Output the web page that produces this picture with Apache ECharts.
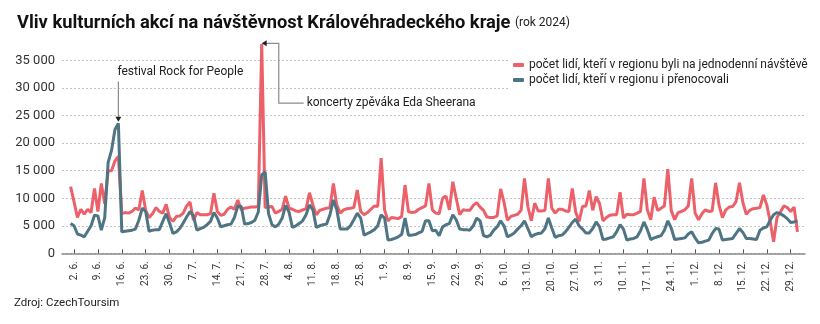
<!DOCTYPE html>
<html><head><meta charset="utf-8">
<script src="https://cdn.jsdelivr.net/npm/echarts@6/dist/echarts.min.js"></script>
<style>html,body{margin:0;padding:0;background:#fff}#c{width:820px;height:324px}</style>
</head><body><div id="c"></div>
<script>
// ---- categories: every day from 1. 6. to 31. 12. 2024 ----
const monthLengths = [[6,30],[7,31],[8,31],[9,30],[10,31],[11,30],[12,31]];
const dates = [];
monthLengths.forEach(([m, n]) => { for (let d = 1; d <= n; d++) dates.push(d + '. ' + m + '.'); });

// ---- tick labels (Sundays) ----
const tickLabels = ['2. 6.','9. 6.','16. 6.','23. 6.','30. 6.','7. 7.','14. 7.','21. 7.','28. 7.','4. 8.','11. 8.','18. 8.','25. 8.','1. 9.','8. 9.','15. 9.','22. 9.','29. 9.','6. 10.','13. 10.','20. 10.','27. 10.','3. 11.','10. 11.','17. 11.','24. 11.','1. 12.','8. 12.','15. 12.','22. 12.','29. 12.'];
const yTicks = [0, 5000, 10000, 15000, 20000, 25000, 30000, 35000];

// ---- series: day visitors ----
const dayTrips = [
 12100,
 9400, 6500, 8000, 7100, 8000, 7400, 11800,
 7600, 12700, 9000, 15000, 15000, 16800, 17600,
 7200, 7400, 7300, 7600, 8200, 7900, 11400,
 7800, 6500, 7200, 8300, 7600, 7300, 8900,
 6500, 5800, 6700, 6800, 7300, 8600, 9300,
 6000, 7400, 7000, 7000, 7000, 7200, 10900,
 7600, 6900, 7100, 8000, 8400, 8000, 9700,
 7900, 8200, 8300, 8400, 8400, 8500, 38000,
 8300, 8400, 8500, 7300, 7600, 8000, 10400,
 8200, 8000, 7700, 7600, 7900, 8100, 11000,
 8800, 7000, 7800, 8000, 8200, 8300, 12700,
 8800, 7300, 7900, 8100, 8200, 8300, 11500,
 7600, 7000, 7400, 8000, 8600, 8500, 17300,
 7900, 5900, 6500, 6400, 6300, 6700, 12400,
 7600, 7400, 7500, 8000, 8300, 8600, 12700,
 7900, 7300, 7200, 10000, 10400, 7900, 13000,
 10000, 7000, 7900, 7800, 7800, 8700, 9200,
 8400, 7800, 6600, 6500, 6500, 6800, 11700,
 9300, 6000, 6700, 6900, 7100, 7800, 13600,
 8500, 5900, 9100, 7700, 7700, 7800, 13600,
 8200, 7300, 8000, 8000, 7700, 7600, 11800,
 7500, 5800, 8500, 8600, 11400, 7800, 10300,
 9000, 5900, 6500, 6900, 7000, 7000, 11100,
 6400, 7100, 7000, 7000, 7300, 7600, 13600,
 7900, 6100, 10200, 7800, 8200, 8600, 15300,
 7800, 6100, 7400, 7600, 7900, 8600, 13600,
 7300, 6100, 7200, 7900, 7600, 7700, 12800,
 8800, 6500, 7900, 8400, 8500, 9400, 12800,
 9200, 7100, 7800, 8100, 8200, 8300, 10600,
 8800, 5800, 2100, 6500, 7500, 8600, 8300,
 7600, 8400, 3900
];

// ---- series: overnight visitors ----
const overnight = [
 5400,
 5000, 3500, 3300, 3000, 4000, 5000, 6900,
 6800, 4200, 6500, 16500, 18700, 22500, 23600,
 3900, 4000, 4100, 4200, 4400, 6000, 8200,
 7600, 4000, 4200, 4300, 4300, 5800, 7200,
 5500, 3600, 3900, 4500, 5500, 6600, 7600,
 6800, 4200, 4500, 4700, 5200, 5800, 7400,
 6400, 4800, 5000, 5200, 5300, 6500, 8600,
 8500, 5300, 5400, 5600, 6000, 7500, 14200,
 14800, 7200, 5200, 4800, 5300, 6400, 8700,
 7500, 4700, 5000, 5400, 5900, 7000, 8800,
 7900, 4700, 5000, 5200, 5300, 7000, 9700,
 7900, 4400, 4400, 4400, 5000, 6100, 7300,
 6400, 3300, 3600, 3900, 4300, 5000, 7000,
 6400, 2400, 2500, 2700, 3000, 3400, 6400,
 3300, 3300, 3400, 3700, 4000, 5900, 5900,
 4100, 4200, 3200, 4800, 5200, 5400, 7000,
 6100, 4400, 4300, 4300, 4200, 5000, 6400,
 5900, 3200, 3000, 3300, 4200, 4800, 5900,
 5000, 3000, 3300, 3700, 4400, 5000, 5900,
 4500, 3000, 3400, 3600, 3700, 4500, 6400,
 4600, 2900, 3200, 3300, 3900, 4700, 5600,
 6200, 5000, 4400, 3700, 3700, 4500, 5700,
 4800, 2500, 2600, 2800, 3000, 3900, 5200,
 4400, 2400, 2600, 2700, 3000, 4100, 5700,
 4300, 2500, 2800, 3000, 3200, 4200, 5900,
 4600, 2500, 2600, 2700, 2800, 3500, 3900,
 2800, 1900, 2000, 2200, 2400, 3600, 4500,
 4400, 2400, 2500, 2600, 2700, 3600, 4500,
 3800, 2700, 2700, 2600, 2500, 4200, 4600,
 4800, 6000, 7000, 7400, 7200, 6800, 6300,
 5600, 5700, 5900
];

const seriesNames = ['počet lidí, kteří v regionu byli na jednodenní návštěvě', 'počet lidí, kteří v regionu i přenocovali'];
const titleText = 'Vliv kulturních akcí na návštěvnost Královéhradeckého kraje';
const subTitleText = '(rok 2024)';
const sourceText = 'Zdroj: CzechToursim';
const noteRock = { text: 'festival Rock for People', date: '15. 6.' };
const noteSheeran = { text: 'koncerty zpěváka Eda Sheerana', date: '27. 7.' };

const RED = '#ec6069', BLUE = '#4f7585', FONT = 'Roboto';
const tickIdx = tickLabels.map(t => dates.indexOf(t));
const fmt = v => v === 0 ? '0' : String(v).replace(/\B(?=(\d{3})+(?!\d))/g, ' ');

const chart = echarts.init(document.getElementById('c'), null, { renderer: 'canvas' });
chart.setOption({
  animation: false,
  backgroundColor: '#fff',
  textStyle: { fontFamily: FONT },
  title: {
    left: 12, top: 9,
    text: '{t|' + titleText + '} {s|' + subTitleText + '}',
    textStyle: { fontWeight: 'normal', rich: {
      t: { fontSize: 18.3, fontWeight: 'bold', color: '#111', fontFamily: FONT },
      s: { fontSize: 12, fontWeight: 'normal', color: '#222', fontFamily: FONT, padding: [0, 0, 1, 0] }
    } }
  },
  legend: {
    left: 510, top: 56, orient: 'vertical', itemGap: 3,
    itemWidth: 11, itemHeight: 4, icon: 'roundRect',
    backgroundColor: '#fff', padding: [3, 12, 3, 3],
    textStyle: { fontSize: 12, color: '#222', fontFamily: FONT },
    data: seriesNames
  },
  grid: { left: 62, right: 15, top: 41.4, bottom: 70.7 },
  xAxis: {
    type: 'value', min: -2.52, max: 215.2,
    axisLine: { lineStyle: { color: '#8a8a8a', width: 1.5 } },
    axisTick: { inside: true, length: 4, customValues: tickIdx, lineStyle: { color: '#555' } },
    axisLabel: { customValues: tickIdx, rotate: 90, fontSize: 10, color: '#333', margin: 8,
      formatter: v => dates[Math.round(v)] },
    splitLine: { show: false }
  },
  yAxis: {
    type: 'value', min: 0, max: 38500,
    axisLine: { show: false },
    axisTick: { show: false, customValues: yTicks },
    axisLabel: { customValues: yTicks, fontSize: 13, color: '#333', margin: 7, formatter: fmt },
    splitLine: { lineStyle: { color: '#c4c4c4', type: [2, 2], width: 1 } }
  },
  series: [
    { name: seriesNames[0], type: 'line', data: dayTrips.map((v, i) => [i, v]), showSymbol: false,
      lineStyle: { color: RED, width: 3 }, itemStyle: { color: RED }, z: 3 },
    { name: seriesNames[1], type: 'line', data: overnight.map((v, i) => [i, v]), showSymbol: false,
      lineStyle: { color: BLUE, width: 3 }, itemStyle: { color: BLUE }, z: 4 }
  ]
});

// ---- annotations positioned via the chart's own scales ----
const px = (i, v) => chart.convertToPixel({ gridIndex: 0 }, [i, v]);
const iR = dates.indexOf(noteRock.date);
const iS = dates.indexOf(noteSheeran.date);
const rTop = px(iR, 31200), rTip = px(iR, overnight[iR] + 300), rText = px(iR, 32900);
const sTip = px(iS, dayTrips[iS] + 150);
const sCorner = px(iS + 5, dayTrips[iS] + 150);
const sDown = px(iS + 5, 27300);
const sEnd = px(iS + 12.3, 27300);
const gray = '#8c8c8c';
chart.setOption({
  graphic: [
    { type: 'line', shape: { x1: rTop[0], y1: rTop[1], x2: rTip[0], y2: rTip[1] - 3 }, style: { stroke: gray, lineWidth: 1.2 }, z: 10 },
    { type: 'polygon', shape: { points: [[rTip[0], rTip[1]], [rTip[0] - 3, rTip[1] - 5], [rTip[0] + 3, rTip[1] - 5]] }, style: { fill: '#222' }, z: 10 },
    { type: 'text', x: rText[0] - 1, y: rText[1], style: { text: noteRock.text, fill: '#222', font: '12px ' + FONT, textVerticalAlign: 'middle' }, z: 10 },
    { type: 'polyline', shape: { points: [[sTip[0] + 3, sTip[1]], sCorner, sDown, sEnd] }, style: { stroke: gray, lineWidth: 1.2, fill: null }, z: 10 },
    { type: 'polygon', shape: { points: [[sTip[0], sTip[1]], [sTip[0] + 5, sTip[1] - 3], [sTip[0] + 5, sTip[1] + 3]] }, style: { fill: '#222' }, z: 10 },
    { type: 'text', x: sEnd[0] + 3, y: sEnd[1], style: { text: noteSheeran.text, fill: '#222', font: '12px ' + FONT, textVerticalAlign: 'middle' }, z: 10 },
    { type: 'text', left: 14, top: 297, style: { text: sourceText, fill: '#222', font: '11.5px ' + FONT } }
  ]
});
</script></body></html>
